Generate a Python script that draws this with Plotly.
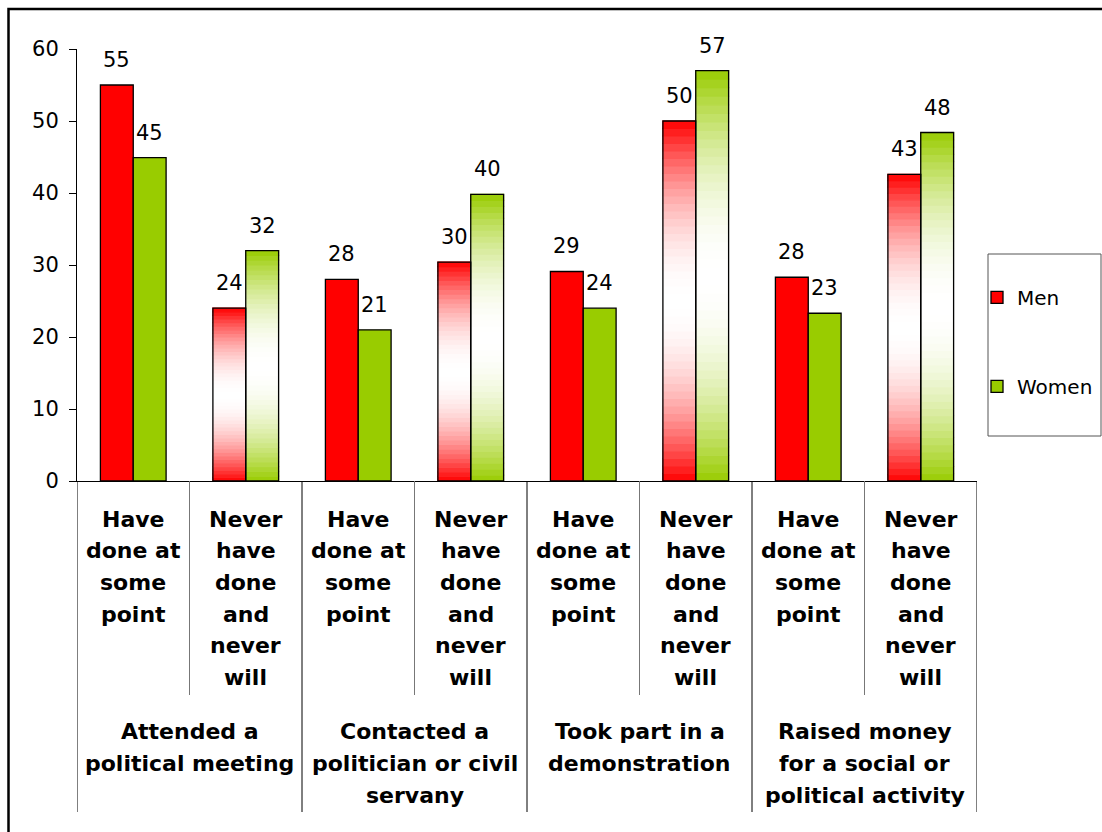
import plotly.graph_objects as go

# ---------------- data ----------------
group_labels = [
    "Attended a\npolitical meeting",
    "Contacted a\npolitician or civil\nservany",
    "Took part in a\ndemonstration",
    "Raised money\nfor a social or\npolitical activity",
]
sub_labels = ["Have\ndone at\nsome\npoint", "Never\nhave\ndone\nand\nnever\nwill"]
men = [55, 24, 28, 30.4, 29.1, 50, 28.3, 42.6]
women = [44.9, 32, 21, 39.8, 24, 57, 23.3, 48.4]
series_names = ["Men", "Women"]
y_ticks = [0, 10, 20, 30, 40, 50, 60]

# ---------------- style ----------------
FONT = "DejaVu Sans"
RED = (255, 0, 0)
GREEN = (153, 204, 0)
BW = 0.292          # bar width in category units
NSEG = 48           # gradient slices

n_sub = len(sub_labels)
n_cat = len(group_labels) * n_sub
cats = list(range(n_cat))
is_grad = [c % n_sub == 1 for c in cats]

def mix(c, d):
    f = d * d
    return "rgb(%d,%d,%d)" % tuple(round(255 + (ch - 255) * f) for ch in c)

fig = go.Figure()
series = [(men, [c - BW / 2 for c in cats], RED, series_names[0]),
          (women, [c + BW / 2 for c in cats], GREEN, series_names[1])]

# gradient slices
for vals, xs, col, name in series:
    gi = [i for i in cats if is_grad[i]]
    for k in range(NSEG):
        t = (k + 0.5) / NSEG
        d = abs(2 * t - 1)
        cc = mix(col, d)
        fig.add_trace(go.Bar(
            x=[xs[i] for i in gi],
            y=[vals[i] / NSEG for i in gi],
            base=[vals[i] * k / NSEG for i in gi],
            width=BW,
            marker=dict(color=cc, line=dict(color=cc, width=1.2)),
            showlegend=False, hoverinfo="skip"))

# solid bars + outlines
for vals, xs, col, name in series:
    fig.add_trace(go.Bar(
        x=xs, y=vals, width=BW, name=name, legendgroup=name,
        marker=dict(color=["rgb(%d,%d,%d)" % col if not is_grad[i] else "rgba(0,0,0,0)" for i in cats],
                    line=dict(color="black", width=1.3)),
    ))

annotations = []
# data labels
for vals, xs, col, name in series:
    for i in cats:
        annotations.append(dict(x=xs[i], y=vals[i], xref="x", yref="y",
                                text=str(int(vals[i] + 0.5)), showarrow=False,
                                yanchor="middle", yshift=25,
                                font=dict(family=FONT, size=21, color="black")))

# category labels (two levels)
PX_H = 432.0
def paper_y(px_from_axis):
    return -px_from_axis / PX_H

for c in cats:
    for j, line in enumerate(sub_labels[c % n_sub].split("\n")):
        annotations.append(dict(x=c, y=paper_y(38 + 31.7 * j), xref="x", yref="paper",
                                text="<b>%s</b>" % line, showarrow=False, yanchor="middle",
                                font=dict(family=FONT, size=22, color="black")))
for g, lab in enumerate(group_labels):
    for j, line in enumerate(lab.split("\n")):
        annotations.append(dict(x=g * n_sub + (n_sub - 1) / 2, y=paper_y(250 + 32 * j),
                                xref="x", yref="paper", text="<b>%s</b>" % line,
                                showarrow=False, yanchor="middle",
                                font=dict(family=FONT, size=22, color="black")))

shapes = []
for b in range(n_cat + 1):
    major = b % n_sub == 0
    shapes.append(dict(type="line", xref="x", yref="paper", x0=b - 0.5, x1=b - 0.5,
                       y0=0, y1=paper_y(331 if major else 214),
                       line=dict(color="black" if major else "#777777", width=1)))
# legend frame
shapes.append(dict(type="rect", xref="paper", yref="paper",
                   x0=(988 - 77) / 900, x1=(1101 - 77) / 900,
                   y0=(481 - 436) / PX_H, y1=(481 - 254) / PX_H,
                   line=dict(color="#555555", width=1)))
# outer chart frame
shapes.append(dict(type="rect", xref="paper", yref="paper",
                   x0=(8.5 - 77) / 900, x1=(1140 - 77) / 900,
                   y0=(481 - 880) / PX_H, y1=(481 - 9) / PX_H,
                   line=dict(color="black", width=2.5)))

fig.update_layout(
    width=1102, height=832,
    margin=dict(l=77, r=125, t=49, b=351, autoexpand=False),
    paper_bgcolor="white", plot_bgcolor="white",
    barmode="overlay",
    font=dict(family=FONT, size=21, color="black"),
    xaxis=dict(range=[-0.5, n_cat - 0.5], showticklabels=False, ticks="",
               showline=True, linecolor="black", linewidth=1,
               showgrid=False, zeroline=False, fixedrange=True),
    yaxis=dict(range=[0, 60], tickvals=y_ticks, ticks="outside", ticklen=7,
               tickcolor="black", showline=True, linecolor="black", linewidth=1,
               tickfont=dict(family=FONT, size=21, color="black"),
               ticklabelstandoff=6,
               showgrid=False, zeroline=False, fixedrange=True),
    legend=dict(x=1.0, y=0.47, xanchor="left", yanchor="top",
                font=dict(family=FONT, size=20, color="black"),
                bgcolor="rgba(0,0,0,0)", borderwidth=0,
                tracegroupgap=60, traceorder="grouped"),
    annotations=annotations,
    shapes=shapes,
)

fig.write_html("out.html", config={"displayModeBar": False},
               post_script="document.body.style.margin='0';")
